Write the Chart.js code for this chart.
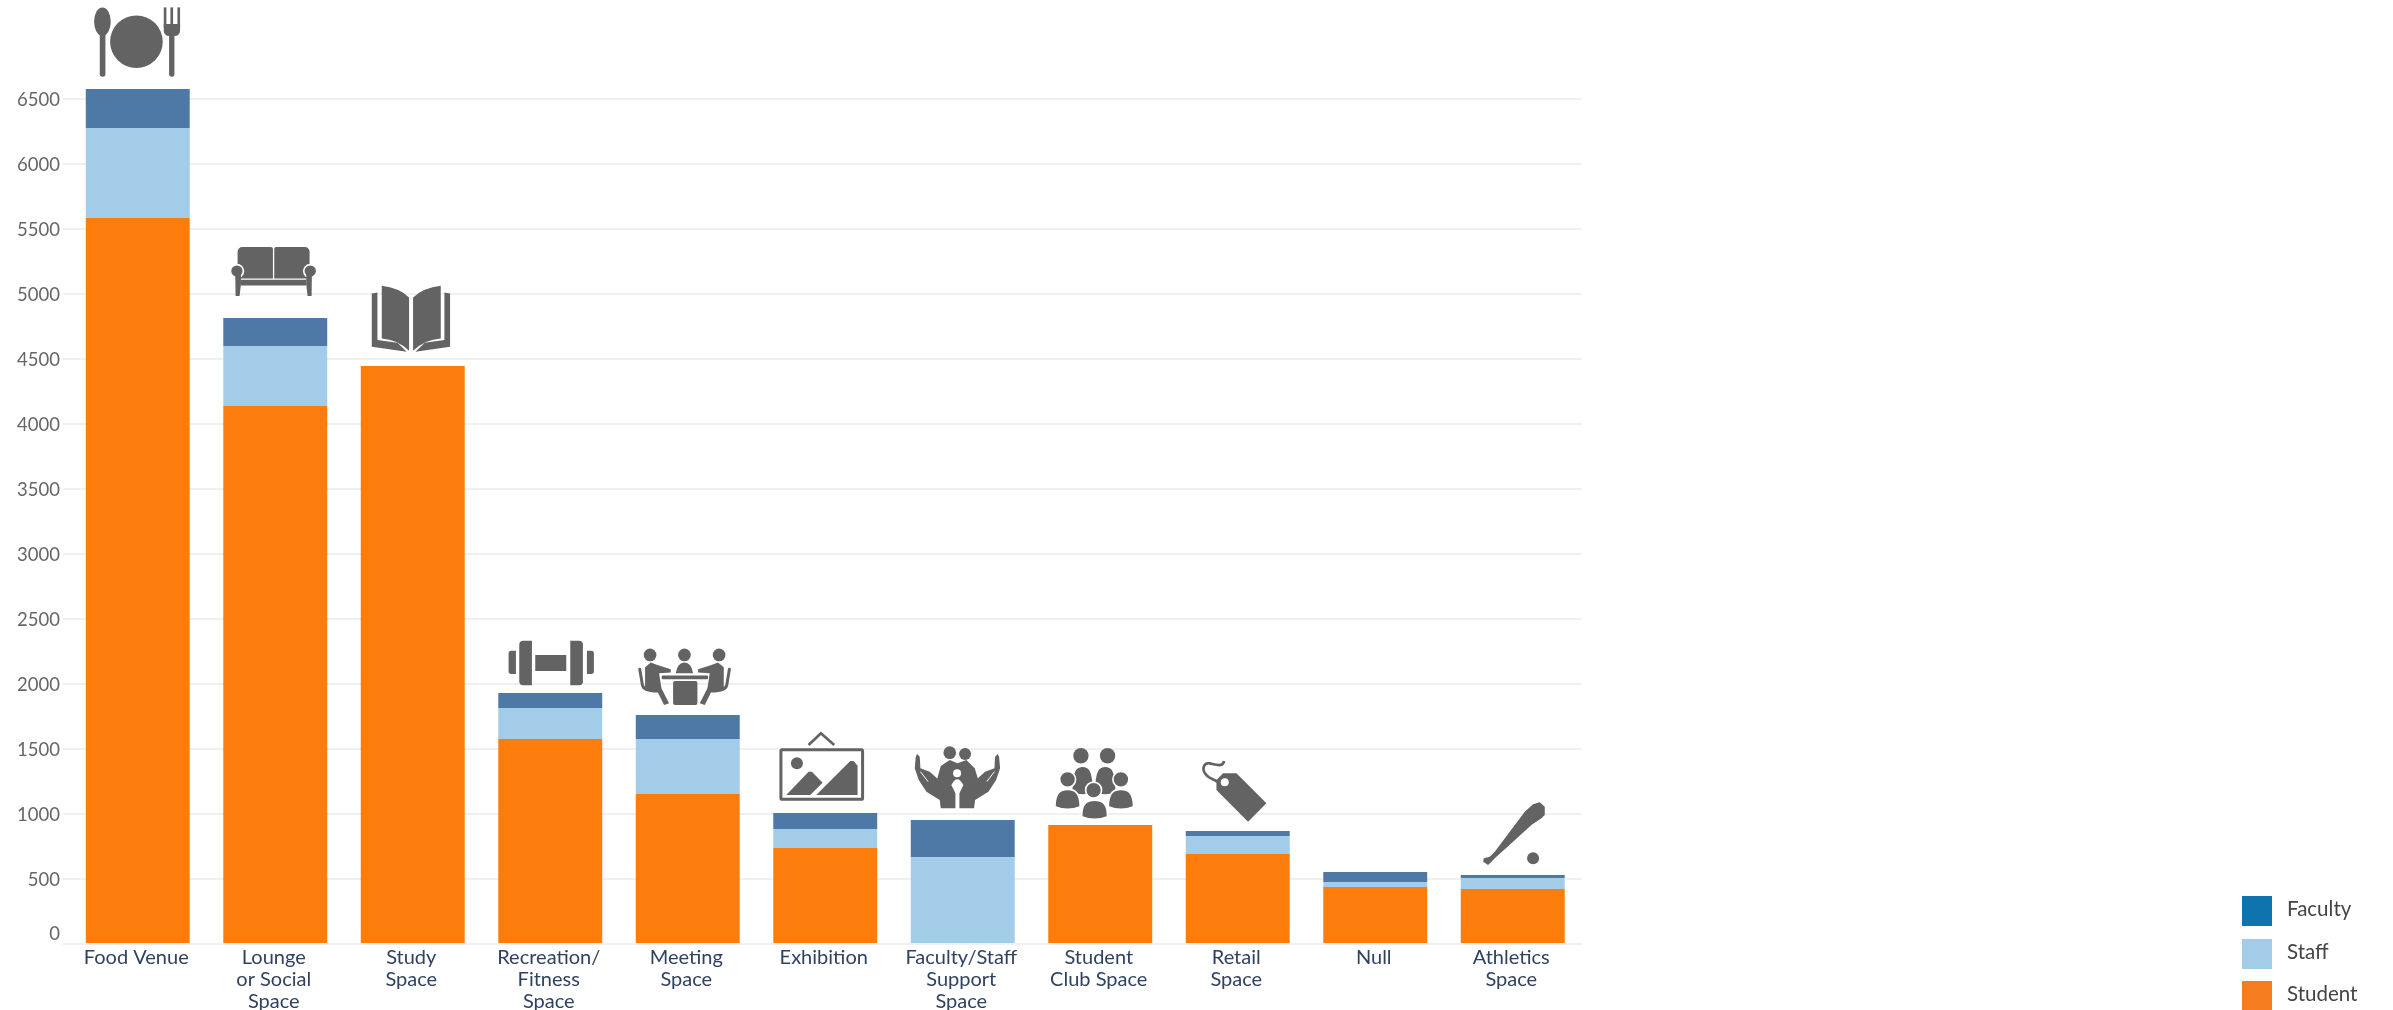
<!DOCTYPE html>
<html>
<head>
<meta charset="utf-8">
<title>Space use by group</title>
<script src="https://cdn.jsdelivr.net/npm/chart.js@4"></script>
<style>
    html, body { margin: 0; padding: 0; background: #fff; overflow: hidden; }
    #chart { position: absolute; left: 0; top: 0; }
    #legend { position: absolute; left: 2242px; top: 896px; font: 20.5px Lato, sans-serif; color: #444; }
    #legend div { height: 42.5px; display: flex; align-items: flex-start; }
    #legend i { display: block; width: 30px; height: 30px; margin-right: 15px; }
    #legend span { line-height: 24px; }
</style>
</head>
<body>
<canvas id="chart" width="2393" height="1010"></canvas>
<div id="legend"></div>
<script>
var categories = [
    ['Food Venue'], ['Lounge', 'or Social', 'Space'], ['Study', 'Space'],
    ['Recreation/', 'Fitness', 'Space'], ['Meeting', 'Space'], ['Exhibition'],
    ['Faculty/Staff', 'Support', 'Space'], ['Student', 'Club Space'],
    ['Retail', 'Space'], ['Null'], ['Athletics', 'Space']
];
var student = [5585, 4138, 4446, 1577, 1154, 738, 0, 915, 692, 438, 423];
var staff = [692, 462, 0, 238, 423, 147, 669, 0, 139, 39, 85];
var faculty = [300, 215, 0, 116, 185, 123, 285, 0, 38, 77, 23];
var yTicks = [0, 500, 1000, 1500, 2000, 2500, 3000, 3500, 4000, 4500, 5000, 5500, 6000, 6500];
var iconNames = ['food', 'sofa', 'book', 'dumbbell', 'meeting', 'picture', 'hands', 'people', 'tag', null, 'bat'];
var seriesNames = ['Student', 'Staff', 'Faculty'];
var barColors = ['#FD7D0C', '#A3CCE8', '#4E78A6'];
var legendColors = ['#F67C20', '#A3CCE8', '#0F73AE'];

var GREY = '#636363';

function poly(ctx, pts) {
    ctx.beginPath();
    ctx.moveTo(pts[0], pts[1]);
    for (var i = 2; i < pts.length; i += 2) {
        ctx.lineTo(pts[i], pts[i + 1]);
    }
    ctx.closePath();
    ctx.fill();
}

function circle(ctx, x, y, r, outline) {
    ctx.beginPath();
    ctx.arc(x, y, r, 0, Math.PI * 2);
    ctx.fill();
    if (outline) {
        ctx.stroke();
    }
}

function box(ctx, x, y, w, h, r) {
    ctx.beginPath();
    ctx.roundRect(x, y, w, h, r);
    ctx.fill();
}

// head-and-shoulders shape for the people icons
function dome(ctx, cx, top, bottom, rx) {
    ctx.beginPath();
    ctx.moveTo(cx - rx, bottom - 8);
    ctx.bezierCurveTo(cx - rx, top + 6, cx - rx * 0.5, top, cx, top);
    ctx.bezierCurveTo(cx + rx * 0.5, top, cx + rx, top + 6, cx + rx, bottom - 8);
    ctx.quadraticCurveTo(cx, bottom + 8, cx - rx, bottom - 8);
    ctx.closePath();
    ctx.fill();
    ctx.stroke();
}

// Icon outlines are in the pixels of a 3x crop; dx/dy place the crop relative to the bar top.
var icons = {
    food: { dx: -138, dy: -89, draw: function(ctx) {
        ctx.beginPath();
        ctx.ellipse(308, 65, 25, 43, 0, 0, Math.PI * 2);
        ctx.fill();
        box(ctx, 300, 95, 17, 135, 8);
        circle(ctx, 410, 125, 79);
        box(ctx, 492, 22, 8, 60, 0);
        box(ctx, 512, 22, 8, 60, 0);
        box(ctx, 533, 22, 8, 60, 0);
        box(ctx, 492, 72, 49, 36, [0, 0, 16, 16]);
        box(ctx, 508, 100, 16, 130, 8);
    } },
    sofa: { dx: -75, dy: -97, draw: function(ctx) {
        box(ctx, 112, 78, 106, 94, [14, 6, 0, 0]);
        box(ctx, 222, 78, 106, 94, [6, 14, 0, 0]);
        box(ctx, 122, 176, 196, 17, 0);
        ctx.fillStyle = '#fff';
        circle(ctx, 110, 150, 22);
        circle(ctx, 330, 150, 22);
        ctx.fillStyle = GREY;
        circle(ctx, 110, 150, 17);
        circle(ctx, 330, 150, 17);
        poly(ctx, [105, 155, 122, 155, 122, 190, 118, 225, 106, 225]);
        poly(ctx, [335, 155, 318, 155, 318, 190, 322, 225, 334, 225]);
    } },
    book: { dx: -212, dy: -146, draw: function(ctx) {
        ctx.beginPath();
        ctx.moveTo(543, 197);
        ctx.quadraticCurveTo(595, 203, 625, 232);
        ctx.lineTo(625, 392);
        ctx.quadraticCurveTo(590, 358, 543, 355);
        ctx.closePath();
        ctx.fill();
        ctx.beginPath();
        ctx.moveTo(720, 197);
        ctx.quadraticCurveTo(668, 203, 637, 232);
        ctx.lineTo(637, 392);
        ctx.quadraticCurveTo(672, 358, 720, 355);
        ctx.closePath();
        ctx.fill();
        poly(ctx, [513, 220, 530, 217, 530, 360, 590, 368, 618, 395, 513, 380]);
        poly(ctx, [748, 220, 731, 217, 731, 360, 672, 368, 644, 395, 748, 380]);
    } },
    dumbbell: { dx: -70, dy: -73, draw: function(ctx) {
        box(ctx, 165, 105, 93, 48, 0);
        box(ctx, 117, 62, 38, 134, [12, 0, 0, 12]);
        box(ctx, 270, 62, 38, 134, [0, 12, 12, 0]);
        box(ctx, 85, 92, 22, 70, [8, 0, 0, 8]);
        box(ctx, 320, 92, 21, 70, [0, 8, 8, 0]);
    } },
    meeting: { dx: -207, dy: -95, draw: function(ctx) {
        circle(ctx, 508, 105, 19);
        circle(ctx, 611, 105, 19);
        circle(ctx, 715, 105, 19);
        ctx.beginPath();
        ctx.moveTo(585, 160);
        ctx.quadraticCurveTo(590, 128, 611, 128);
        ctx.quadraticCurveTo(632, 128, 637, 160);
        ctx.closePath();
        ctx.fill();
        box(ctx, 543, 167, 139, 11, 3);
        box(ctx, 577, 183, 73, 72, 6);
        poly(ctx, [493, 142, 510, 128, 530, 135, 570, 148, 570, 158, 535, 160, 542, 205, 565, 250, 550, 255, 530, 215, 493, 205]);
        poly(ctx, [729, 142, 712, 128, 692, 135, 652, 148, 652, 158, 687, 160, 680, 205, 657, 250, 672, 255, 692, 215, 729, 205]);
        ctx.lineWidth = 9;
        ctx.lineCap = 'round';
        ctx.strokeStyle = GREY;
        ctx.beginPath();
        ctx.moveTo(477, 148);
        ctx.lineTo(485, 195);
        ctx.quadraticCurveTo(488, 213, 530, 213);
        ctx.moveTo(746, 148);
        ctx.lineTo(738, 195);
        ctx.quadraticCurveTo(735, 213, 693, 213);
        ctx.stroke();
    } },
    picture: { dx: -345, dy: -193, draw: function(ctx) {
        ctx.strokeStyle = GREY;
        ctx.lineWidth = 9;
        ctx.beginPath();
        ctx.roundRect(902, 389, 245, 149, 4);
        ctx.stroke();
        ctx.lineWidth = 8;
        ctx.beginPath();
        ctx.moveTo(985, 375);
        ctx.lineTo(1022, 340);
        ctx.lineTo(1062, 375);
        ctx.stroke();
        circle(ctx, 950, 430, 18);
        poly(ctx, [918, 525, 985, 455, 995, 455, 1027, 488, 990, 525]);
        poly(ctx, [1008, 525, 1110, 423, 1120, 423, 1132, 437, 1132, 525]);
    } },
    hands: { dx: -58, dy: -80, draw: function(ctx) {
        circle(ctx, 135, 38, 19);
        circle(ctx, 181, 42, 18);
        poly(ctx, [97, 118, 108, 78, 135, 60, 158, 70, 185, 60, 210, 85, 220, 118, 180, 135, 135, 135]);
        poly(ctx, [37, 42, 45, 50, 47, 85, 75, 95, 100, 118, 140, 135, 152, 160, 152, 205, 108, 205, 105, 180, 65, 155, 42, 120, 30, 85, 33, 50]);
        poly(ctx, [279, 42, 271, 50, 269, 85, 241, 95, 216, 118, 176, 135, 164, 160, 164, 205, 208, 205, 211, 180, 251, 155, 274, 120, 286, 85, 283, 50]);
        ctx.fillStyle = '#fff';
        circle(ctx, 157, 100, 12);
        ctx.beginPath();
        ctx.moveTo(140, 135);
        ctx.quadraticCurveTo(157, 100, 176, 135);
        ctx.lineTo(158, 160);
        ctx.closePath();
        ctx.fill();
        ctx.strokeStyle = '#fff';
        ctx.lineWidth = 3;
        ctx.beginPath();
        ctx.moveTo(47, 95);
        ctx.lineTo(70, 125);
        ctx.moveTo(269, 95);
        ctx.lineTo(246, 125);
        ctx.stroke();
    } },
    people: { dx: -196, dy: -85, draw: function(ctx) {
        ctx.strokeStyle = '#fff';
        ctx.lineWidth = 5;
        circle(ctx, 530, 47, 23);
        circle(ctx, 610, 47, 23);
        dome(ctx, 535, 78, 165, 33);
        dome(ctx, 603, 78, 165, 33);
        circle(ctx, 490, 118, 24, true);
        circle(ctx, 650, 118, 24, true);
        dome(ctx, 490, 148, 208, 38);
        dome(ctx, 650, 148, 208, 38);
        circle(ctx, 568, 150, 24, true);
        dome(ctx, 571, 180, 238, 39);
    } },
    tag: { dx: -48, dy: -76, draw: function(ctx) {
        poly(ctx, [100, 55, 140, 55, 230, 145, 175, 200, 80, 105, 80, 75]);
        ctx.fillStyle = '#fff';
        circle(ctx, 105, 82, 12);
        ctx.strokeStyle = GREY;
        ctx.lineWidth = 8;
        ctx.beginPath();
        ctx.moveTo(103, 18);
        ctx.bezierCurveTo(100, 38, 75, 28, 60, 25);
        ctx.bezierCurveTo(40, 22, 35, 45, 50, 60);
        ctx.bezierCurveTo(60, 72, 75, 72, 85, 82);
        ctx.stroke();
    } },
    bat: { dx: -43, dy: -80, draw: function(ctx) {
        poly(ctx, [225, 35, 210, 22, 190, 28, 165, 50, 120, 110, 75, 170, 60, 185, 42, 190, 40, 200, 55, 210, 65, 200, 75, 190, 130, 140, 185, 90, 215, 70, 225, 60]);
        circle(ctx, 190, 190, 18);
    } }
};

var iconPlugin = {
    id: 'barIcons',
    afterDatasetsDraw: function(chart) {
        var ctx = chart.ctx;
        var topBars = chart.getDatasetMeta(chart.data.datasets.length - 1).data;
        iconNames.forEach(function(name, i) {
            if (!name) {
                return;
            }
            var icon = icons[name];
            ctx.save();
            ctx.translate(topBars[i].x + icon.dx, topBars[i].y + icon.dy);
            ctx.scale(1 / 3, 1 / 3);
            ctx.fillStyle = GREY;
            icon.draw(ctx);
            ctx.restore();
        });
    }
};

new Chart(document.getElementById('chart').getContext('2d'), {
    type: 'bar',
    plugins: [iconPlugin],
    data: {
        labels: categories,
        datasets: [student, staff, faculty].map(function(values, i) {
            return {
                label: seriesNames[i],
                data: values,
                backgroundColor: barColors[i],
                borderWidth: 0,
                barPercentage: 0.756,
                categoryPercentage: 1
            };
        })
    },
    options: {
        responsive: false,
        animation: false,
        devicePixelRatio: 1,
        layout: { padding: { right: 811.5 } },
        plugins: { legend: { display: false }, tooltip: { enabled: false } },
        scales: {
            x: {
                stacked: true,
                afterFit: function(scale) { scale.height = 66; },
                grid: { display: false, drawTicks: false, tickLength: 0 },
                border: { color: '#f0f0f0', width: 2 },
                ticks: {
                    autoSkip: false,
                    maxRotation: 0,
                    padding: 3,
                    labelOffset: -1.5,
                    color: '#2f4260',
                    font: { family: 'Lato', size: 20, lineHeight: '21.7px' }
                }
            },
            y: {
                stacked: true,
                min: 0,
                max: 7262,
                afterFit: function(scale) {
                    scale.width = 69;
                    scale.paddingTop = 0;
                    scale.paddingBottom = 0;
                },
                afterBuildTicks: function(scale) {
                    scale.ticks = yTicks.map(function(v) { return { value: v }; });
                },
                grid: { color: '#f0f0f0', lineWidth: 2, tickLength: 6 },
                border: { display: false },
                ticks: {
                    padding: 3,
                    labelOffset: 1,
                    color: '#666',
                    font: { family: 'Lato', size: 18.5 },
                    // the zero label sits one half line above its gridline
                    callback: function(value) { return value === 0 ? ['0', ''] : String(value); }
                }
            }
        }
    }
});

// legend lists the series top of stack first
var legend = document.getElementById('legend');
seriesNames.slice().reverse().forEach(function(name) {
    var row = document.createElement('div');
    var swatch = document.createElement('i');
    var text = document.createElement('span');
    swatch.style.background = legendColors[seriesNames.indexOf(name)];
    text.textContent = name;
    row.appendChild(swatch);
    row.appendChild(text);
    legend.appendChild(row);
});
</script>
</body>
</html>
